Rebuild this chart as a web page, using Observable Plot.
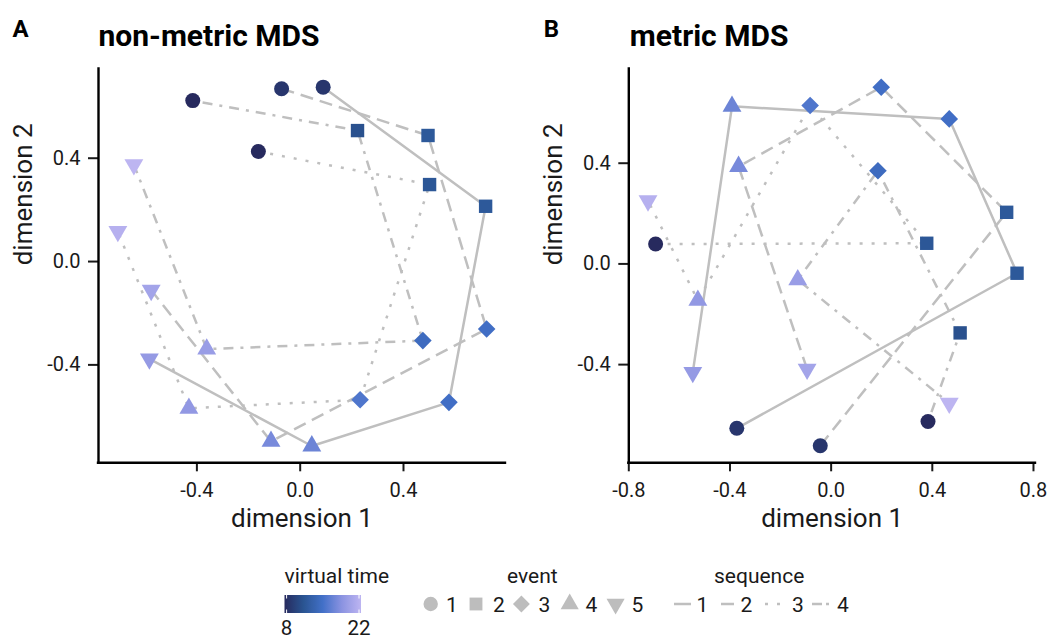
<!DOCTYPE html>
<html><head><meta charset="utf-8">
<script src="https://cdn.jsdelivr.net/npm/d3@7"></script>
<script src="https://cdn.jsdelivr.net/npm/@observablehq/plot@0.6"></script>
<style>
html,body{margin:0;padding:0;background:#fff;}
#root{position:relative;width:1048px;height:640px;font-family:Roboto,sans-serif;overflow:hidden;background:#fff;}
#root svg{position:absolute;overflow:visible;}
</style></head><body><div id="root"></div>
<script>
// ---- data ----
const sequences = [1, 2, 3, 4];
const events = [1, 2, 3, 4, 5];
// virtual time per [sequence][event]
const virtualTime = [
  [9, 12, 14.8, 17, 19.2],
  [9, 12, 14.8, 17.6, 20.2],
  [8, 11.8, 15.6, 19, 21.5],
  [8, 11.2, 14.4, 19.5, 22]
];
// non-metric MDS coordinates
const nmdsX = [
  [0.089, 0.718, 0.576, 0.045, -0.584],
  [-0.072, 0.495, 0.722, -0.113, -0.577],
  [-0.162, 0.501, 0.232, -0.431, -0.706],
  [-0.416, 0.222, 0.475, -0.362, -0.644]
];
const nmdsY = [
  [0.675, 0.214, -0.545, -0.714, -0.377],
  [0.669, 0.488, -0.261, -0.696, -0.111],
  [0.426, 0.298, -0.535, -0.568, 0.117],
  [0.623, 0.507, -0.306, -0.339, 0.375]
];
// metric MDS coordinates
const mdsX = [
  [-0.373, 0.735, 0.467, -0.392, -0.547],
  [-0.043, 0.694, 0.198, -0.366, -0.095],
  [-0.694, 0.378, -0.083, -0.527, -0.724],
  [0.383, 0.510, 0.185, -0.132, 0.467]
];
const mdsY = [
  [-0.653, -0.037, 0.576, 0.626, -0.431],
  [-0.722, 0.205, 0.702, 0.387, -0.418],
  [0.079, 0.082, 0.629, -0.145, 0.251],
  [-0.626, -0.274, 0.370, -0.063, -0.553]
];
const ticksA = [-0.4, 0, 0.4];
const ticksBx = [-0.8, -0.4, 0, 0.4, 0.8];
const ticksBy = [-0.4, 0, 0.4];
const colorDomain = [8, 11.5, 15, 18.5, 22];
const colorRange = ["#272a5e", "#2a5592", "#4270c8", "#8b93e1", "#bdb5f1"];
const legendTimeTicks = [8, 22];

// ---- styles ----
const GRAY = "#bfbfbf";
const seqDash = {1: undefined, 2: "13,7", 3: "3,9", 4: "3,7,10,7"};
const kf = s => Math.sqrt(s / Math.PI);
const symbols = {
  1: {draw(c, s){ const r = 7.5 * kf(s); c.moveTo(r, 0); c.arc(0, 0, r, 0, 2 * Math.PI); c.closePath(); }},
  2: {draw(c, s){ const h = 6.7 * kf(s); c.moveTo(-h, -h); c.lineTo(h, -h); c.lineTo(h, h); c.lineTo(-h, h); c.closePath(); }},
  3: {draw(c, s){ const h = 8.8 * kf(s); c.moveTo(0, -h); c.lineTo(h, 0); c.lineTo(0, h); c.lineTo(-h, 0); c.closePath(); }},
  4: {draw(c, s){ const R = 10.9 * kf(s); c.moveTo(0, -R); c.lineTo(R * 0.866, R / 2); c.lineTo(-R * 0.866, R / 2); c.closePath(); }},
  5: {draw(c, s){ const R = 10.9 * kf(s); c.moveTo(0, R); c.lineTo(R * 0.866, -R / 2); c.lineTo(-R * 0.866, -R / 2); c.closePath(); }}
};

function rows(X, Y) {
  const out = [];
  sequences.forEach((s, i) => events.forEach((e, j) =>
    out.push({seq: s, event: e, x: X[i][j], y: Y[i][j], time: virtualTime[i][j]})));
  return out;
}

function panel(X, Y, o) {
  const data = rows(X, Y);
  const marks = [];
  sequences.forEach(s => marks.push(Plot.line(data.filter(d => d.seq === s), {
    x: "x", y: "y", stroke: GRAY, strokeWidth: 2.5, strokeDasharray: seqDash[s],
    strokeLinecap: "butt", strokeLinejoin: "round"
  })));
  events.forEach(e => marks.push(Plot.dot(data.filter(d => d.event === e), {
    x: "x", y: "y", r: 1, symbol: symbols[e], fill: "time"
  })));
  marks.push(
    Plot.axisX({ticks: o.xticks, tickFormat: d => d.toFixed(1), tickSize: 9, tickPadding: 11, fontSize: 20, label: null, color: "#1a1a1a", strokeWidth: 2}),
    Plot.axisY({ticks: o.yticks, tickFormat: d => d.toFixed(1), tickSize: 10, tickPadding: 8, fontSize: 20, label: null, color: "#1a1a1a", strokeWidth: 2}),
    Plot.ruleX([o.xdomain[0]], {stroke: "black", strokeWidth: 2.4}),
    Plot.ruleY([o.ydomain[0]], {stroke: "black", strokeWidth: 2.4, strokeLinecap: "square"}),
    Plot.text(["dimension 1"], {text: d => d, frameAnchor: "bottom", lineAnchor: "bottom", dy: 64.5, fontSize: 26, fill: "#1a1a1a"}),
    Plot.text(["dimension 2"], {text: d => d, frameAnchor: "left", lineAnchor: "bottom", rotate: -90, dx: -67, fontSize: 26, fill: "#1a1a1a"}),
    Plot.text([o.title], {text: d => d, frameAnchor: "top-left", textAnchor: "start", lineAnchor: "bottom", dx: o.titleDx, dy: -22, fontSize: 30, fontWeight: "bold", fill: "black"}),
    Plot.text([o.tag], {text: d => d, frameAnchor: "top-left", textAnchor: "start", lineAnchor: "bottom", dx: o.tagDx, dy: -31, fontSize: 24, fontWeight: "bold", fill: "black"})
  );
  return Plot.plot({
    width: 524, height: 545,
    marginLeft: o.ml, marginRight: o.mr, marginTop: 67.3, marginBottom: 82.7,
    x: {domain: o.xdomain}, y: {domain: o.ydomain},
    color: {type: "linear", domain: colorDomain, range: colorRange, interpolate: "rgb"},
    style: {fontFamily: "Roboto", fontSize: "20px", background: "transparent", overflow: "visible"},
    marks
  });
}

const root = document.getElementById("root");
const A = panel(nmdsX, nmdsY, {xdomain: [-0.781, 0.795], ydomain: [-0.779, 0.75], xticks: ticksA, yticks: ticksA,
  ml: 98, mr: 19, title: "non-metric MDS", tag: "A", titleDx: 0, tagDx: -86});
A.style.left = "0px"; A.style.top = "0px";
root.appendChild(A);
const B = panel(mdsX, mdsY, {xdomain: [-0.8, 0.808], ydomain: [-0.79, 0.779], xticks: ticksBx, yticks: ticksBy,
  ml: 104.3, mr: 13, title: "metric MDS", tag: "B", titleDx: 1, tagDx: -85});
B.style.left = "524px"; B.style.top = "0px";
root.appendChild(B);

// ---- legend ----
const color = A.scale("color");
const L = d3.create("svg").attr("width", 1048).attr("height", 95).style("left", "0px").style("top", "545px");
const g = L.append("g").attr("transform", "translate(0,-545)").attr("font-family", "Roboto").attr("fill", "#1a1a1a").attr("font-size", 21);
const grad = L.append("defs").append("linearGradient").attr("id", "vt").attr("x1", 0).attr("x2", 1).attr("y1", 0).attr("y2", 0);
d3.range(0, 1.0001, 0.05).forEach(t => grad.append("stop").attr("offset", t).attr("stop-color", color.apply(8 + t * 14)));
const barX0 = 284.5, barX1 = 361, barY = 595, barH = 18;
const tx = d3.scaleLinear([8, 22], [286.6, 359]);
g.append("text").attr("x", 284.5).attr("y", 583).text("virtual time");
g.append("rect").attr("x", barX0).attr("y", barY).attr("width", barX1 - barX0).attr("height", barH).attr("fill", "url(#vt)");
legendTimeTicks.forEach(v => {
  g.append("line").attr("x1", tx(v)).attr("x2", tx(v)).attr("y1", barY).attr("y2", barY + 3.5).attr("stroke", "white").attr("stroke-width", 1);
  g.append("line").attr("x1", tx(v)).attr("x2", tx(v)).attr("y1", barY + barH - 3.5).attr("y2", barY + barH).attr("stroke", "white").attr("stroke-width", 1);
  g.append("text").attr("x", tx(v)).attr("y", 634.5).attr("text-anchor", "middle").attr("font-size", 20.5).text(String(v));
});

g.append("text").attr("x", 507).attr("y", 583).text("event");
const evX = [430.7, 476, 521.4, 569.7, 615.6];
const evT = [451.8, 499, 544.4, 591.5, 637.4];
events.forEach((e, i) => {
  const p = d3.path(); symbols[e].draw(p, Math.PI * 0.92);
  g.append("path").attr("d", p.toString()).attr("transform", `translate(${evX[i]},604)`).attr("fill", "#bdbdbd");
  g.append("text").attr("x", evT[i]).attr("y", 611.5).attr("text-anchor", "middle").text(String(e));
});

g.append("text").attr("x", 714).attr("y", 583).text("sequence");
const sqX = [674, 721, 765, 812];
const sqT = [702.5, 746.5, 798, 843];
sequences.forEach((s, i) => {
  g.append("line").attr("x1", sqX[i]).attr("x2", sqX[i] + 17).attr("y1", 604).attr("y2", 604)
    .attr("stroke", GRAY).attr("stroke-width", 2.5).attr("stroke-dasharray", s === 4 ? "10,4,3,7" : (seqDash[s] || null));
  g.append("text").attr("x", sqT[i]).attr("y", 611.5).attr("text-anchor", "middle").text(String(s));
});
root.appendChild(L.node());
</script></body></html>
